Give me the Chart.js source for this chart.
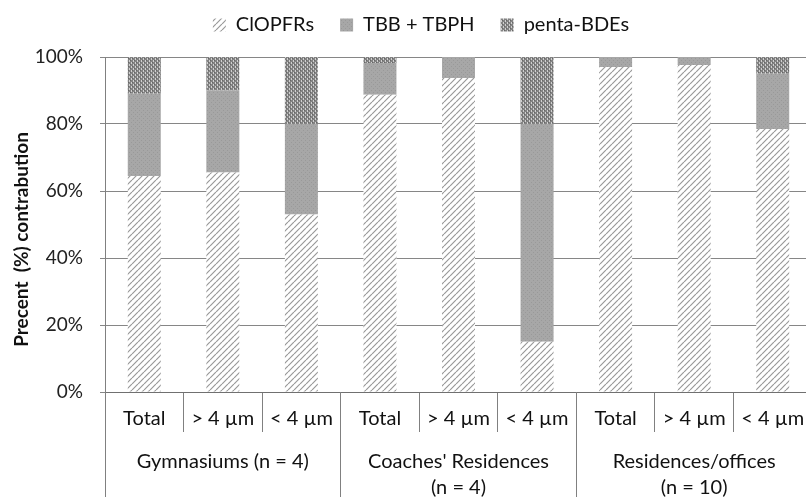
<!DOCTYPE html>
<html>
<head>
<meta charset="utf-8">
<title>Precent (%) contrabution</title>
<script src="https://cdn.jsdelivr.net/npm/chart.js@4.4.1/dist/chart.umd.min.js"></script>
<style>
  html, body { margin: 0; padding: 0; background: #fff; overflow: hidden; }
  canvas { display: block; }
</style>
</head>
<body>
<canvas id="grafikKontribusi" width="812" height="497"></canvas>
<script>
// Kategori sumbu x (fraksi ukuran partikel) dan kelompok lokasi
const kategori = ['Total', '> 4 µm', '< 4 µm', 'Total', '> 4 µm', '< 4 µm', 'Total', '> 4 µm', '< 4 µm'];
const kelompok = [['Gymnasiums (n = 4)'], ["Coaches' Residences", '(n = 4)'], ['Residences/offices', '(n = 10)']];

// Persentase kontribusi tiap golongan senyawa
const clopfr = [64.5, 65.5, 53, 88.7, 93.7, 15, 97, 97.6, 78.5];
const tbbTbph = [24.5, 24.5, 27, 9.5, 6.3, 65, 3, 2.4, 16.5];
const pentaBde = [11, 10, 20, 1.8, 0, 20, 0, 0, 5];

// Nilai tick sumbu y
const tickY = [0, 20, 40, 60, 80, 100];

(function () {
  const HURUF = 'Lato, "Open Sans", sans-serif';
  Chart.defaults.font.family = HURUF;
  Chart.defaults.color = '#111';

  // Pola arsir miring untuk ClOPFRs
  function polaArsir() {
    const c = document.createElement('canvas');
    c.width = c.height = 6;
    const g = c.getContext('2d');
    g.fillStyle = '#fff';
    g.fillRect(0, 0, 6, 6);
    g.strokeStyle = '#999';
    g.lineWidth = 1.2;
    g.beginPath();
    for (let k = -1; k <= 1; k++) {
      g.moveTo(k * 6, 6);
      g.lineTo(k * 6 + 6, 0);
    }
    g.stroke();
    return g.createPattern(c, 'repeat');
  }

  // Abu-abu rata dengan sedikit tekstur untuk TBB + TBPH
  function polaAbu() {
    const c = document.createElement('canvas');
    c.width = c.height = 4;
    const g = c.getContext('2d');
    g.fillStyle = '#a7a7a7';
    g.fillRect(0, 0, 4, 4);
    g.fillStyle = '#999';
    g.fillRect(1, 0, 1, 1);
    g.fillRect(3, 2, 1, 1);
    return g.createPattern(c, 'repeat');
  }

  // Bintik gelap-terang untuk penta-BDEs
  function polaBintik() {
    const c = document.createElement('canvas');
    c.width = c.height = 4;
    const g = c.getContext('2d');
    g.fillStyle = '#838383';
    g.fillRect(0, 0, 4, 4);
    g.fillStyle = '#d0d0d0';
    g.fillRect(1, 0, 1, 2);
    g.fillRect(3, 2, 1, 2);
    g.fillStyle = '#666';
    g.fillRect(0, 2, 1, 1);
    g.fillRect(2, 0, 1, 1);
    return g.createPattern(c, 'repeat');
  }

  // Tambah jarak di bawah legenda
  const jarakLegenda = {
    id: 'jarakLegenda',
    beforeInit(chart) {
      const fitAsli = chart.legend.fit;
      chart.legend.fit = function () {
        fitAsli.call(this);
        this.height += 12;
      };
    }
  };

  // Label sumbu x dua tingkat, garis pemisah kelompok, dan judul sumbu y
  const labelBawah = {
    id: 'labelBawah',
    afterDraw(chart) {
      const { ctx, chartArea } = chart;
      const x = chart.scales.x;
      const lebar = x.getPixelForValue(1) - x.getPixelForValue(0);
      const rapi = (p) => Math.round(p - 0.5) + 0.5;

      ctx.save();
      ctx.fillStyle = '#111';
      ctx.font = '20px ' + HURUF;
      ctx.textAlign = 'center';
      ctx.textBaseline = 'middle';
      kategori.forEach((teks, i) => {
        ctx.fillText(teks, x.getPixelForValue(i), chartArea.bottom + 27);
      });

      ctx.strokeStyle = '#808080';
      ctx.lineWidth = 1;
      kelompok.forEach((baris, g) => {
        const kiri = x.getPixelForValue(g * 3) - lebar / 2;
        const kanan = x.getPixelForValue(g * 3 + 2) + lebar / 2;
        baris.forEach((teks, j) => {
          ctx.fillText(teks, (kiri + kanan) / 2, chartArea.bottom + 70 + j * 26);
        });
        ctx.beginPath();
        ctx.moveTo(rapi(kiri), chartArea.bottom);
        ctx.lineTo(rapi(kiri), chart.height);
        if (g === kelompok.length - 1) {
          ctx.moveTo(rapi(kanan), chartArea.bottom);
          ctx.lineTo(rapi(kanan), chart.height);
        }
        ctx.stroke();
      });

      // Judul sumbu y
      ctx.font = 'bold 19px ' + HURUF;
      ctx.translate(22, (chartArea.top + chartArea.bottom) / 2 + 15);
      ctx.rotate(-Math.PI / 2);
      ctx.fillText('Precent  (%) contrabution', 0, 0);
      ctx.restore();
    }
  };

  const kanvas = document.getElementById('grafikKontribusi');
  new Chart(kanvas, {
    type: 'bar',
    data: {
      labels: kategori,
      datasets: [
        { label: 'ClOPFRs', data: clopfr, backgroundColor: polaArsir() },
        { label: 'TBB + TBPH', data: tbbTbph, backgroundColor: polaAbu() },
        { label: 'penta-BDEs', data: pentaBde, backgroundColor: polaBintik() }
      ]
    },
    options: {
      responsive: false,
      animation: false,
      devicePixelRatio: 1,
      layout: { padding: { top: -11, left: 30, right: 0, bottom: 0 } },
      datasets: {
        bar: { barPercentage: 0.42, categoryPercentage: 1, borderWidth: 0 }
      },
      plugins: {
        tooltip: { enabled: false },
        legend: {
          position: 'top',
          labels: {
            boxWidth: 13,
            boxHeight: 13,
            padding: 26,
            color: '#111',
            font: { size: 20 }
          }
        }
      },
      scales: {
        x: {
          stacked: true,
          grid: {
            offset: true,
            drawOnChartArea: false,
            tickLength: 40,
            color: '#808080'
          },
          border: { display: true, color: '#707070' },
          ticks: { display: false },
          afterFit: (skala) => { skala.height = 105; }
        },
        y: {
          stacked: true,
          min: 0,
          max: 100,
          afterBuildTicks: (skala) => { skala.ticks = tickY.map((v) => ({ value: v })); },
          ticks: {
            padding: 17,
            color: '#222',
            font: { size: 19 },
            callback: (v) => v + '%'
          },
          grid: { color: '#868686', tickLength: 5 },
          border: { display: true, color: '#808080' },
          afterFit: (skala) => { skala.width = 75; }
        }
      }
    },
    plugins: [jarakLegenda, labelBawah]
  });
})();
</script>
</body>
</html>
